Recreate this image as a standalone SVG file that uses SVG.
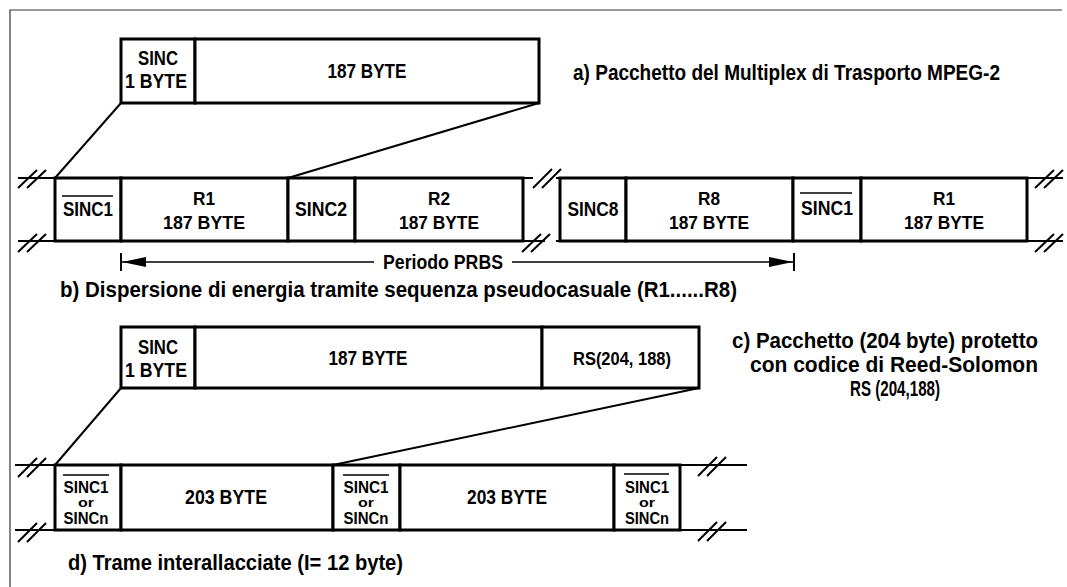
<svg xmlns="http://www.w3.org/2000/svg" width="1067" height="587" viewBox="0 0 1067 587">
<style>
.box{fill:#fff;stroke:#000;stroke-width:3}
.ln{stroke:#000;stroke-width:2;fill:none}
.thin{stroke:#000;stroke-width:1.5;fill:none}
.frame{stroke:#333;stroke-width:1.2;fill:none}
.t{font-family:"Liberation Sans",Arial,sans-serif;font-weight:bold;fill:#000;text-anchor:middle}
.s{font-family:"Liberation Sans",Arial,sans-serif;font-weight:bold;fill:#000}
</style>
<defs>
<marker id="ah" viewBox="0 0 24 10" refX="24" refY="5" markerWidth="24" markerHeight="10" markerUnits="userSpaceOnUse" orient="auto-start-reverse">
<path d="M0,0 L24,5 L0,10 Z" fill="#000"/>
</marker>
</defs>
<rect width="1067" height="587" fill="#fff"/>
<path class="frame" d="M10,587 V10 H1062"/>

<g id="connectors">
<path class="ln" d="M121,103 L55,178"/>
<path class="ln" d="M539,103 L288,178"/>
<path class="ln" d="M121,388 L55,465"/>
<path class="ln" d="M699,388 L333,465"/>
<path class="ln" d="M18,178 H55 M18,241 H55"/>
<path class="ln" d="M18,188 L37,170 M27,188 L46,170 M18,252 L37,234 M27,252 L46,234"/>
<path class="ln" d="M523,178 H533 M523,241 H545 M556,178 H560 M556,241 H560"/>
<path class="ln" d="M533,188 L552,169 M542,188 L561,169 M522,252 L541,234 M531,252 L550,234"/>
<path class="ln" d="M1027,178 H1063 M1027,241 H1063"/>
<path class="ln" d="M1035,188 L1054,170 M1044,188 L1063,170 M1035,252 L1054,234 M1044,252 L1063,234"/>
<path class="ln" d="M15,465 H55 M15,530 H55"/>
<path class="ln" d="M18,477 L37,458 M27,477 L46,458 M18,542 L37,523 M27,542 L46,523"/>
<path class="ln" d="M680,465 H747 M680,530 H747"/>
<path class="ln" d="M698,476 L717,457 M707,476 L726,457 M698,541 L717,522 M707,541 L726,522"/>
<path class="ln" d="M121,253 V271 M794,253 V271"/>
<path class="thin" d="M374,262 H122" marker-end="url(#ah)"/>
<path class="thin" d="M512,262 H793" marker-end="url(#ah)"/>
</g>

<g id="pkt-a">
<rect class="box" x="121" y="39" width="74" height="64"/>
<rect class="box" x="195" y="39" width="344" height="64"/>
<text class="t" x="158" y="65" font-size="20" textLength="40" lengthAdjust="spacingAndGlyphs">SINC</text>
<text class="t" x="156" y="88" font-size="20" textLength="62" lengthAdjust="spacingAndGlyphs">1 BYTE</text>
<text class="t" x="367" y="78" font-size="20" textLength="79" lengthAdjust="spacingAndGlyphs">187 BYTE</text>
</g>
<g id="label-a">
<text class="s" x="573" y="80" font-size="22" textLength="427" lengthAdjust="spacingAndGlyphs">a) Pacchetto del Multiplex di Trasporto MPEG-2</text>
</g>

<g id="row-b">
<g id="b-sinc1">
<rect class="box" x="55" y="178" width="66" height="63"/>
<line class="thin" x1="62" y1="196" x2="113" y2="196"/>
<text class="t" x="88" y="216" font-size="20" textLength="50" lengthAdjust="spacingAndGlyphs">SINC1</text>
</g>
<g id="b-r1">
<rect class="box" x="121" y="178" width="167" height="63"/>
<text class="t" x="204" y="205" font-size="19" textLength="22" lengthAdjust="spacingAndGlyphs">R1</text>
<text class="t" x="204" y="229" font-size="19" textLength="82" lengthAdjust="spacingAndGlyphs">187 BYTE</text>
</g>
<g id="b-sinc2">
<rect class="box" x="288" y="178" width="67" height="63"/>
<text class="t" x="321" y="216" font-size="20" textLength="52" lengthAdjust="spacingAndGlyphs">SINC2</text>
</g>
<g id="b-r2">
<rect class="box" x="355" y="178" width="168" height="63"/>
<text class="t" x="439" y="205" font-size="19" textLength="22" lengthAdjust="spacingAndGlyphs">R2</text>
<text class="t" x="439" y="229" font-size="19" textLength="80" lengthAdjust="spacingAndGlyphs">187 BYTE</text>
</g>
<g id="b-sinc8">
<rect class="box" x="560" y="178" width="66" height="63"/>
<text class="t" x="593" y="216" font-size="20" textLength="51" lengthAdjust="spacingAndGlyphs">SINC8</text>
</g>
<g id="b-r8">
<rect class="box" x="626" y="178" width="167" height="63"/>
<text class="t" x="709" y="205" font-size="19" textLength="22" lengthAdjust="spacingAndGlyphs">R8</text>
<text class="t" x="709" y="229" font-size="19" textLength="80" lengthAdjust="spacingAndGlyphs">187 BYTE</text>
</g>
<g id="b-sinc1b">
<rect class="box" x="793" y="178" width="68" height="63"/>
<line class="thin" x1="800" y1="193" x2="852" y2="193"/>
<text class="t" x="827" y="215" font-size="20" textLength="52" lengthAdjust="spacingAndGlyphs">SINC1</text>
</g>
<g id="b-r1b">
<rect class="box" x="861" y="178" width="166" height="63"/>
<text class="t" x="944" y="205" font-size="19" textLength="22" lengthAdjust="spacingAndGlyphs">R1</text>
<text class="t" x="944" y="229" font-size="19" textLength="80" lengthAdjust="spacingAndGlyphs">187 BYTE</text>
</g>
</g>
<g id="label-prbs">
<text class="t" x="443" y="269" font-size="20" textLength="120" lengthAdjust="spacingAndGlyphs">Periodo PRBS</text>
</g>
<g id="label-b">
<text class="s" x="60" y="297" font-size="22" textLength="677" lengthAdjust="spacingAndGlyphs">b) Dispersione di energia tramite sequenza pseudocasuale (R1......R8)</text>
</g>

<g id="pkt-c">
<rect class="box" x="121" y="327" width="74" height="61"/>
<rect class="box" x="195" y="327" width="347" height="61"/>
<rect class="box" x="542" y="327" width="157" height="61"/>
<text class="t" x="158" y="354" font-size="20" textLength="40" lengthAdjust="spacingAndGlyphs">SINC</text>
<text class="t" x="156" y="377" font-size="20" textLength="62" lengthAdjust="spacingAndGlyphs">1 BYTE</text>
<text class="t" x="368" y="365" font-size="20" textLength="79" lengthAdjust="spacingAndGlyphs">187 BYTE</text>
<text class="t" x="622" y="365" font-size="19" textLength="98" lengthAdjust="spacingAndGlyphs">RS(204, 188)</text>
</g>
<g id="label-c">
<text class="s" x="732" y="348" font-size="22" textLength="306" lengthAdjust="spacingAndGlyphs">c) Pacchetto (204 byte) protetto</text>
<text class="s" x="750" y="372" font-size="22" textLength="288" lengthAdjust="spacingAndGlyphs">con codice di Reed-Solomon</text>
<text class="s" transform="translate(850,396) scale(0.72,1)" x="0" y="0" font-size="22" textLength="125" lengthAdjust="spacingAndGlyphs">RS (204,188)</text>
</g>

<g id="row-d">
<g id="d-sinc-1">
<rect class="box" x="55" y="465" width="66" height="65"/>
<line class="thin" x1="63" y1="475" x2="109" y2="475"/>
<text class="t" x="86" y="493" font-size="16" textLength="45" lengthAdjust="spacingAndGlyphs">SINC1</text>
<text class="t" x="86" y="507" font-size="12" textLength="16" lengthAdjust="spacingAndGlyphs">or</text>
<text class="t" x="86" y="524" font-size="16" textLength="45" lengthAdjust="spacingAndGlyphs">SINCn</text>
</g>
<g id="d-203-1">
<rect class="box" x="121" y="465" width="212" height="65"/>
<text class="t" x="226" y="504" font-size="20" textLength="82" lengthAdjust="spacingAndGlyphs">203 BYTE</text>
</g>
<g id="d-sinc-2">
<rect class="box" x="333" y="465" width="67" height="65"/>
<line class="thin" x1="343" y1="475" x2="389" y2="475"/>
<text class="t" x="366" y="493" font-size="16" textLength="45" lengthAdjust="spacingAndGlyphs">SINC1</text>
<text class="t" x="366" y="507" font-size="12" textLength="16" lengthAdjust="spacingAndGlyphs">or</text>
<text class="t" x="366" y="524" font-size="16" textLength="45" lengthAdjust="spacingAndGlyphs">SINCn</text>
</g>
<g id="d-203-2">
<rect class="box" x="400" y="465" width="214" height="65"/>
<text class="t" x="507" y="504" font-size="20" textLength="80" lengthAdjust="spacingAndGlyphs">203 BYTE</text>
</g>
<g id="d-sinc-3">
<rect class="box" x="614" y="465" width="66" height="65"/>
<line class="thin" x1="624" y1="474" x2="669" y2="474"/>
<text class="t" x="647" y="493" font-size="16" textLength="44" lengthAdjust="spacingAndGlyphs">SINC1</text>
<text class="t" x="647" y="507" font-size="12" textLength="16" lengthAdjust="spacingAndGlyphs">or</text>
<text class="t" x="647" y="524" font-size="16" textLength="44" lengthAdjust="spacingAndGlyphs">SINCn</text>
</g>
</g>
<g id="label-d">
<text class="s" x="68" y="570" font-size="22" textLength="335" lengthAdjust="spacingAndGlyphs">d) Trame interallacciate (I= 12 byte)</text>
</g>
</svg>
